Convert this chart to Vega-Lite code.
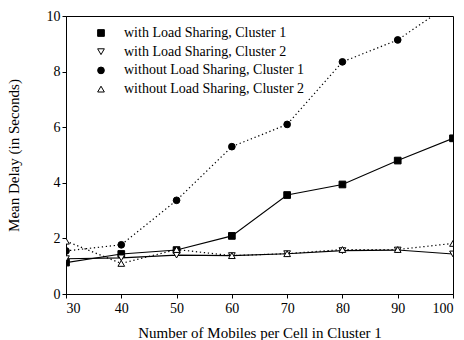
{
  "$schema": "https://vega.github.io/schema/vega-lite/v6.json",
  "width": 387,
  "height": 278,
  "autosize": "none",
  "padding": {"left": 66, "top": 16, "right": 11, "bottom": 46},
  "background": "white",
  "config": {
    "view": {"stroke": "black", "strokeWidth": 1},
    "font": "Liberation Serif",
    "axis": {
      "labelFont": "Liberation Serif",
      "titleFont": "Liberation Serif",
      "labelFontSize": 14,
      "titleFontSize": 15,
      "titleFontWeight": "normal",
      "labelColor": "black",
      "titleColor": "black",
      "domainColor": "black",
      "tickColor": "black",
      "grid": false
    },
    "legend": {"labelFont": "Liberation Serif", "labelFontSize": 14, "labelColor": "black", "labelLimit": 400}
  },
  "data": {
    "values": [
      {"x": 30, "y": 1.13, "s": "with Load Sharing, Cluster 1"},
      {"x": 40, "y": 1.44, "s": "with Load Sharing, Cluster 1"},
      {"x": 50, "y": 1.58, "s": "with Load Sharing, Cluster 1"},
      {"x": 60, "y": 2.09, "s": "with Load Sharing, Cluster 1"},
      {"x": 70, "y": 3.56, "s": "with Load Sharing, Cluster 1"},
      {"x": 80, "y": 3.94, "s": "with Load Sharing, Cluster 1"},
      {"x": 90, "y": 4.8, "s": "with Load Sharing, Cluster 1"},
      {"x": 100, "y": 5.6, "s": "with Load Sharing, Cluster 1"},
      {"x": 30, "y": 1.27, "s": "with Load Sharing, Cluster 2"},
      {"x": 40, "y": 1.3, "s": "with Load Sharing, Cluster 2"},
      {"x": 50, "y": 1.4, "s": "with Load Sharing, Cluster 2"},
      {"x": 60, "y": 1.38, "s": "with Load Sharing, Cluster 2"},
      {"x": 70, "y": 1.45, "s": "with Load Sharing, Cluster 2"},
      {"x": 80, "y": 1.56, "s": "with Load Sharing, Cluster 2"},
      {"x": 90, "y": 1.58, "s": "with Load Sharing, Cluster 2"},
      {"x": 100, "y": 1.44, "s": "with Load Sharing, Cluster 2"},
      {"x": 30, "y": 1.55, "s": "without Load Sharing, Cluster 1"},
      {"x": 40, "y": 1.77, "s": "without Load Sharing, Cluster 1"},
      {"x": 50, "y": 3.37, "s": "without Load Sharing, Cluster 1"},
      {"x": 60, "y": 5.3, "s": "without Load Sharing, Cluster 1"},
      {"x": 70, "y": 6.1, "s": "without Load Sharing, Cluster 1"},
      {"x": 80, "y": 8.35, "s": "without Load Sharing, Cluster 1"},
      {"x": 90, "y": 9.14, "s": "without Load Sharing, Cluster 1"},
      {"x": 100, "y": 10.5, "s": "without Load Sharing, Cluster 1"},
      {"x": 30, "y": 1.9, "s": "without Load Sharing, Cluster 2"},
      {"x": 40, "y": 1.1, "s": "without Load Sharing, Cluster 2"},
      {"x": 50, "y": 1.6, "s": "without Load Sharing, Cluster 2"},
      {"x": 60, "y": 1.38, "s": "without Load Sharing, Cluster 2"},
      {"x": 70, "y": 1.45, "s": "without Load Sharing, Cluster 2"},
      {"x": 80, "y": 1.6, "s": "without Load Sharing, Cluster 2"},
      {"x": 90, "y": 1.6, "s": "without Load Sharing, Cluster 2"},
      {"x": 100, "y": 1.82, "s": "without Load Sharing, Cluster 2"}
    ]
  },
  "encoding": {
    "x": {
      "field": "x", "type": "quantitative",
      "scale": {"domain": [30, 100], "nice": false, "zero": false},
      "axis": {"values": [30, 40, 50, 60, 70, 80, 90, 100], "title": "Number of Mobiles per Cell in Cluster 1", "tickSize": 4, "labelPadding": 3, "titlePadding": 10}
    },
    "y": {
      "field": "y", "type": "quantitative",
      "scale": {"domain": [0, 10], "nice": false},
      "axis": {"values": [0, 2, 4, 6, 8, 10], "title": "Mean Delay (in Seconds)", "tickSize": 4, "labelPadding": 2, "titlePadding": 25}
    }
  },
  "layer": [
    {
      "transform": [{"filter": "indexof(datum.s, 'without') < 0"}],
      "mark": {"type": "line", "color": "black", "strokeWidth": 1.1, "clip": true},
      "encoding": {"detail": {"field": "s"}}
    },
    {
      "transform": [{"filter": "indexof(datum.s, 'without') >= 0"}],
      "mark": {"type": "line", "color": "black", "strokeWidth": 1.2, "strokeDash": [1.3, 2.7], "clip": true},
      "encoding": {"detail": {"field": "s"}}
    },
    {
      "mark": {"type": "point", "filled": true, "strokeWidth": 1, "size": 45, "opacity": 1, "clip": true},
      "encoding": {
        "fill": {
          "field": "s", "type": "nominal",
          "scale": {
            "domain": ["with Load Sharing, Cluster 1", "with Load Sharing, Cluster 2", "without Load Sharing, Cluster 1", "without Load Sharing, Cluster 2"],
            "range": ["black", "white", "black", "white"]
          },
          "legend": {
            "title": null, "orient": "none", "legendX": 28, "legendY": 10, "padding": 0,
            "rowPadding": 4.7, "symbolSize": 45, "symbolOpacity": 1, "symbolStrokeWidth": 1, "labelOffset": 16
          }
        },
        "stroke": {
          "field": "s", "type": "nominal",
          "scale": {
            "domain": ["with Load Sharing, Cluster 1", "with Load Sharing, Cluster 2", "without Load Sharing, Cluster 1", "without Load Sharing, Cluster 2"],
            "range": ["black", "black", "black", "black"]
          },
          "legend": {
            "title": null, "orient": "none", "legendX": 28, "legendY": 10, "padding": 0,
            "rowPadding": 4.7, "symbolSize": 45, "symbolOpacity": 1, "symbolStrokeWidth": 1, "labelOffset": 16
          }
        },
        "shape": {
          "field": "s", "type": "nominal",
          "scale": {
            "domain": ["with Load Sharing, Cluster 1", "with Load Sharing, Cluster 2", "without Load Sharing, Cluster 1", "without Load Sharing, Cluster 2"],
            "range": ["square", "triangle-down", "circle", "triangle-up"]
          },
          "legend": {
            "title": null, "orient": "none", "legendX": 28, "legendY": 10, "padding": 0,
            "rowPadding": 4.7, "symbolSize": 45, "symbolOpacity": 1, "symbolStrokeWidth": 1, "labelOffset": 16
          }
        }
      }
    }
  ]
}
